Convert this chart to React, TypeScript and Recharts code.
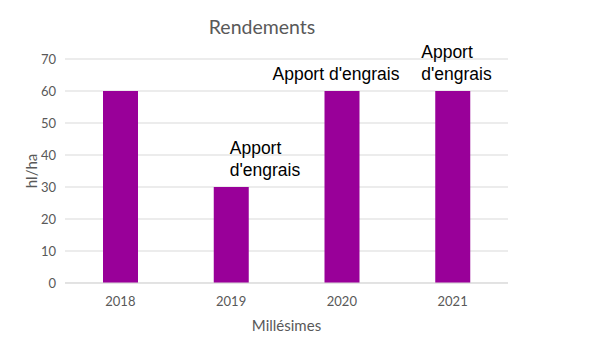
import { BarChart, Bar, XAxis, YAxis, CartesianGrid, LabelList, Label } from 'recharts'

const years = ['2018', '2019', '2020', '2021']
const yields = [60, 30, 60, 60]
const notes = ['', "Apport d'engrais", "Apport d'engrais", "Apport d'engrais"]
const wrapNote = [false, true, false, true]
const yTicks = [0, 10, 20, 30, 40, 50, 60, 70]

const data = years.map((year, i) => ({ year, value: yields[i], note: notes[i] }))

// horizontal nudge of each note from the bar's left edge
const noteDx = [0, 16, -52, -14]

function NoteLabel(props: any) {
  const { x, y, index, value } = props
  if (!value) return null
  const lines = wrapNote[index] ? value.split(' ') : [value]
  const left = x + noteDx[index]
  const last = y - 11
  return (
    <text x={left} y={last} fill="#000" fontSize={17.5} fontFamily="'Liberation Sans', Arial, sans-serif" textAnchor="start">
      {lines.map((line: string, k: number) => (
        <tspan key={k} x={left} y={last - (lines.length - 1 - k) * 22}>{line}</tspan>
      ))}
    </text>
  )
}

export default function App() {
  return (
    <div style={{ position: 'absolute', left: 0, top: 0, width: 596, height: 356, background: '#fff', fontFamily: 'Lato, sans-serif' }}>
      <div style={{ position: 'absolute', left: 0, width: 524, top: 15, textAlign: 'center', fontSize: 19.5, color: '#595959' }}>
        Rendements
      </div>
      <BarChart width={596} height={356} data={data} margin={{ top: 59, right: 88, bottom: 23, left: 0 }} barSize={35}>
        <CartesianGrid vertical={false} stroke="#d9d9d9" />
        <XAxis
          dataKey="year"
          tickLine={false}
          axisLine={{ stroke: '#d9d9d9' }}
          tickSize={0}
          tickMargin={14}
          height={50}
          tick={{ fill: '#595959', fontSize: 13 }}
        >
          <Label value="Millésimes" position="insideBottom" offset={2} fill="#595959" fontSize={15} />
        </XAxis>
        <YAxis
          domain={[0, 70]}
          ticks={yTicks}
          tickLine={false}
          axisLine={false}
          tickSize={0}
          tickMargin={9}
          width={65}
          tick={{ fill: '#595959', fontSize: 13 }}
        >
          <Label value="hl/ha" angle={-90} position="insideLeft" offset={32} fill="#595959" fontSize={15} style={{ textAnchor: 'middle' }} />
        </YAxis>
        <Bar dataKey="value" fill="#990099" isAnimationActive={false}>
          <LabelList dataKey="note" content={NoteLabel} />
        </Bar>
      </BarChart>
    </div>
  )
}
